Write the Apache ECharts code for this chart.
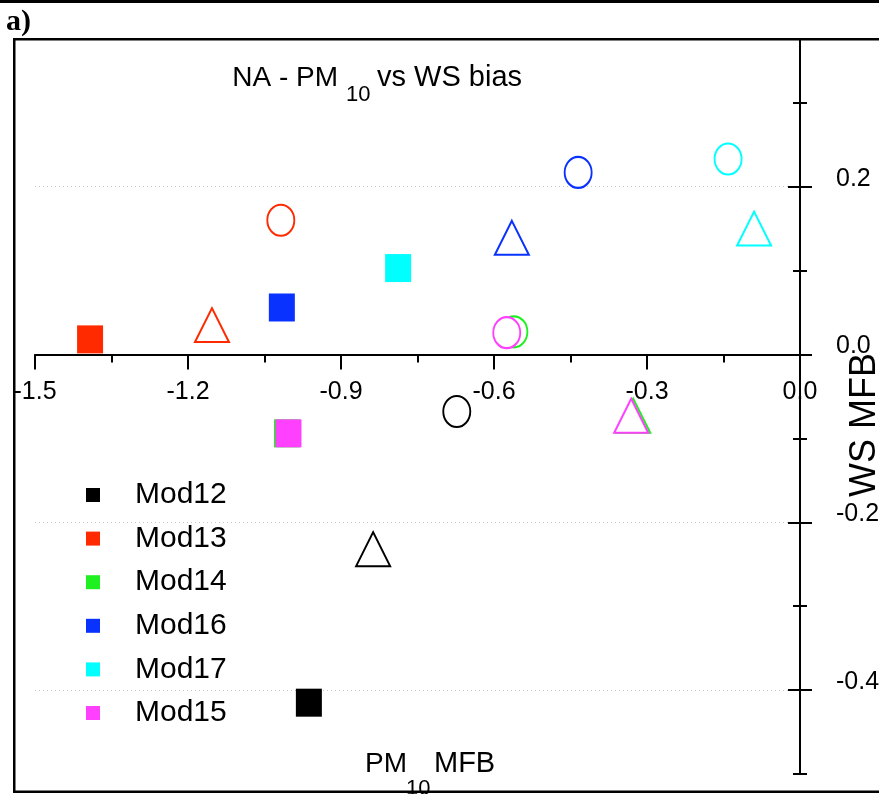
<!DOCTYPE html>
<html>
<head>
<meta charset="utf-8">
<script src="https://cdn.jsdelivr.net/npm/echarts@6/dist/echarts.min.js"></script>
<style>
html,body{margin:0;padding:0;background:#fff;}
#chart{width:879px;height:794px;}
</style>
</head>
<body>
<div id="chart"></div>
<script>
// ---- data ----
const models = ['Mod12', 'Mod13', 'Mod14', 'Mod16', 'Mod17', 'Mod15'];
const modelColors = ['#000000', '#ff2a00', '#1ff01f', '#0a32ff', '#00ffff', '#ff40ff'];
// filled squares
const squareX = [-0.963, -1.392, -1.006, -1.016, -0.788, -1.003];
const squareY = [-0.415, 0.018, -0.094, 0.056, 0.103, -0.094];
// open triangles
const triangleX = [-0.837, -1.153, -0.327, -0.565, -0.090, -0.331];
const triangleY = [-0.232, 0.035, -0.073, 0.139, 0.150, -0.073];
// open circles
const circleX = [-0.673, -1.018, -0.561, -0.435, -0.141, -0.575];
const circleY = [-0.068, 0.160, 0.027, 0.217, 0.233, 0.026];
// axes
const xTicks = [-1.5, -1.2, -0.9, -0.6, -0.3, 0.0];
const yMajorTicks = [-0.4, -0.2, 0.0, 0.2];
const yMinorTicks = [-0.5, -0.3, -0.1, 0.1, 0.3];
const xMin = -1.5, xMax = 0.0, xInterval = 0.3;
const yMin = -0.5, yMax = 0.376;

const FONT = "'Liberation Sans', Arial, Helvetica, sans-serif";
const fmt = v => { const r = Math.round(v * 10) / 10; return (Math.abs(r) < 1e-9 ? 0 : r).toFixed(1); };

const W = 879, H = 794;
const gridL = 35, gridR = 79, gridT = 39, gridB = 20;
const gridH = H - gridT - gridB;
// distance from the bottom of the grid up to the y = 0 line (x axis crosses there)
const xAxisOffset = gridH * (0 - yMin) / (yMax - yMin);

const chart = echarts.init(document.getElementById('chart'));

const baseY = {
  type: 'value', min: yMin, max: yMax, position: 'right',
  axisLine: { show: false, onZero: false },
  axisLabel: { show: false },
  splitLine: { show: false },
  axisTick: { show: false }
};
const tickStyle = { color: '#000', width: 2 };

const series = models.map((name, i) => {
  const c = modelColors[i];
  const hollow = { color: '#ffffff', borderColor: c, borderWidth: 2, opacity: 1 };
  return {
    type: 'scatter', name: name,
    xAxisIndex: 0, yAxisIndex: 0,
    itemStyle: { color: c, opacity: 1 },
    emphasis: { disabled: true },
    data: [
      { value: [squareX[i], squareY[i]], symbol: 'rect', symbolSize: [26, 28] },
      { value: [triangleX[i], triangleY[i]], symbol: 'triangle', symbolSize: [34, 34], itemStyle: hollow },
      { value: [circleX[i], circleY[i]], symbol: 'circle', symbolSize: [27, 31], itemStyle: hollow }
    ]
  };
});

const option = {
  animation: false,
  backgroundColor: '#ffffff',
  grid: { left: gridL, right: gridR, top: gridT, bottom: gridB, containLabel: false, outerBoundsMode: 'none' },
  legend: {
    data: models, orient: 'vertical', left: 86, top: 480, padding: 0,
    icon: 'rect', itemWidth: 14, itemHeight: 14, itemGap: 13.6,
    selectedMode: false,
    itemStyle: { opacity: 1 },
    textStyle: { fontSize: 30, lineHeight: 30, color: '#000', fontFamily: FONT, padding: [0, 0, 0, 30] }
  },
  xAxis: {
    type: 'value', min: xMin, max: xMax, interval: xInterval,
    position: 'bottom', offset: -xAxisOffset,
    axisLine: { onZero: false, lineStyle: { color: '#000', width: 2 } },
    axisTick: { length: 15, lineStyle: tickStyle },
    minorTick: { show: true, splitNumber: 2, length: 8, lineStyle: tickStyle },
    axisLabel: { customValues: xTicks, margin: 25, fontSize: 25, color: '#000', fontFamily: FONT, formatter: fmt },
    splitLine: { show: false }
  },
  yAxis: [
    Object.assign({}, baseY, {
      axisLine: { show: true, onZero: false, lineStyle: { color: '#000', width: 2 } },
      axisTick: { show: true, customValues: yMajorTicks, length: 12, inside: false, lineStyle: tickStyle },
      axisLabel: { show: true, customValues: yMajorTicks, margin: 36, fontSize: 25, color: '#000', fontFamily: FONT,
                   verticalAlign: 'bottom', lineHeight: 16, formatter: fmt },
      splitLine: { show: true, lineStyle: { color: '#c8c8c8', type: [1, 3], width: 1 } }
    }),
    Object.assign({}, baseY, {
      axisTick: { show: true, customValues: yMajorTicks, length: 12, inside: true, lineStyle: tickStyle }
    }),
    Object.assign({}, baseY, {
      axisTick: { show: true, customValues: yMinorTicks, length: 7, inside: false, lineStyle: tickStyle }
    }),
    Object.assign({}, baseY, {
      axisTick: { show: true, customValues: yMinorTicks, length: 7, inside: true, lineStyle: tickStyle }
    })
  ],
  series: series,
  graphic: [
    // title
    { type: 'text', z: 100, style: { x: 338, y: 78, text: 'NA - PM', font: "28px " + FONT, fill: '#000', textAlign: 'right', textVerticalAlign: 'middle' } },
    { type: 'text', z: 100, style: { x: 346, y: 95, text: '10', font: "22px " + FONT, fill: '#000', textAlign: 'left', textVerticalAlign: 'middle' } },
    { type: 'text', z: 100, style: { x: 377, y: 78, text: 'vs WS bias', font: "29px " + FONT, fill: '#000', textAlign: 'left', textVerticalAlign: 'middle' } },
    // x axis name
    { type: 'text', z: 100, style: { x: 407, y: 764, text: 'PM', font: "28px " + FONT, fill: '#000', textAlign: 'right', textVerticalAlign: 'middle' } },
    { type: 'text', z: 100, style: { x: 406, y: 789, text: '10', font: "22px " + FONT, fill: '#000', textAlign: 'left', textVerticalAlign: 'middle' } },
    { type: 'text', z: 100, style: { x: 434, y: 764, text: 'MFB', font: "29px " + FONT, fill: '#000', textAlign: 'left', textVerticalAlign: 'middle' } },
    // y axis name (rotated)
    { type: 'text', z: 100, x: 847, y: 425, rotation: Math.PI / 2,
      style: { x: 0, y: 0, text: 'WS MFB', font: "36px " + FONT, fill: '#000', textAlign: 'center', textVerticalAlign: 'top' } },
    // panel label
    { type: 'text', z: 100, style: { x: 6, y: 37, text: 'a)', font: "bold 30px 'Liberation Serif', 'Times New Roman', serif", fill: '#000', textAlign: 'left', textVerticalAlign: 'bottom' } },
    // frame
    { type: 'rect', z: 110, shape: { x: 0, y: 0, width: W, height: 3 }, style: { fill: '#000' } },
    { type: 'rect', z: 110, shape: { x: 13, y: 38, width: W - 13, height: 2.5 }, style: { fill: '#000' } },
    { type: 'rect', z: 110, shape: { x: 13, y: 38, width: 2.5, height: 755 }, style: { fill: '#000' } },
    { type: 'rect', z: 110, shape: { x: 13, y: 790.5, width: W - 13, height: 2.5 }, style: { fill: '#000' } }
  ]
};
chart.setOption(option);
</script>
</body>
</html>
